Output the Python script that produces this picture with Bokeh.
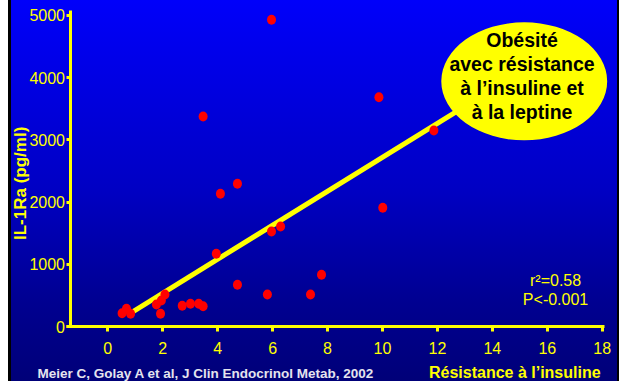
import numpy as np
from bokeh.plotting import figure
from bokeh.models import FixedTicker, Label, Range1d
from bokeh.core.properties import value
from bokeh.embed import file_html
from bokeh.resources import INLINE

# ---- data ----
resistance = [0.52, 0.68, 0.83, 1.77, 1.92, 1.95, 2.08, 2.71, 3.01, 3.31, 3.47, 3.47,
              3.95, 4.10, 4.72, 4.72, 5.81, 5.96, 5.96, 6.29, 7.38, 7.78, 9.87, 10.01, 11.87]
il1ra = [214, 284, 204, 354, 204, 418, 514, 333, 365, 365, 326, 3376,
         1169, 2133, 670, 2294, 514, 1527, 4931, 1608, 514, 831, 3687, 1908, 3151]

fit_x = [0.86, 13.0]
fit_y = [225, 3540]

x_ticks = [0, 2, 4, 6, 8, 10, 12, 14, 16, 18]
y_ticks = [0, 1000, 2000, 3000, 4000, 5000]

bubble_lines = ["Obésité", "avec résistance", "à l\u2019insuline et", "à la leptine"]
stats_lines = ["r\u00b2=0.58", "P<-0.001"]
x_title = "Résistance à l\u2019insuline"
y_title = "IL-1Ra (pg/ml)"
citation = "Meier C, Golay A et al, J Clin Endocrinol Metab, 2002"

FONT = "Liberation Sans"
YELLOW = "#ffff00"

bg = ("linear-gradient(to right, #ffffff 0px, #ffffff 8px, #000000 8px, #000000 11px, "
      "rgba(0,0,0,0) 11px, rgba(0,0,0,0) 617px, #000000 617px, #000000 619px), "
      "linear-gradient(to bottom, #0000fa 0%, #0000c3 50%, #000091 79%, #000078 100%)")

p = figure(width=619, height=381, title=None,
           x_range=Range1d(-3.906, 18.628), y_range=Range1d(-884, 5241),
           output_backend="svg", toolbar_location=None,
           min_border_left=0, min_border_right=0, min_border_top=0, min_border_bottom=0,
           background_fill_color=None, border_fill_color=None, outline_line_color=None,
           styles={"background": bg})

p.grid.visible = False

for ax in (p.xaxis, p.yaxis):
    ax.axis_line_color = YELLOW
    ax.axis_line_width = 3
    ax.major_tick_line_color = YELLOW
    ax.major_tick_line_width = 3
    ax.major_tick_in = 0
    ax.minor_tick_line_color = None
    ax.major_label_text_color = YELLOW
    ax.major_label_text_font = FONT
    ax.major_label_text_font_size = "16px"

p.xaxis.ticker = FixedTicker(ticks=x_ticks, minor_ticks=[])
p.yaxis.ticker = FixedTicker(ticks=y_ticks, minor_ticks=[])
p.xaxis.fixed_location = 0
p.xaxis.bounds = (-1.5, 18.08)
p.xaxis.major_tick_out = 5
p.xaxis.major_label_standoff = 10
p.yaxis.fixed_location = -1.34
p.yaxis.bounds = (0, 5080)
p.yaxis.major_tick_out = 4
p.yaxis.major_label_standoff = 2

# regression line
p.line(fit_x, fit_y, line_color=YELLOW, line_width=5, line_cap="butt")

# data points
p.ellipse(x=resistance, y=il1ra, width=9, height=10, width_units="screen",
          height_units="screen", fill_color="#ff0000", line_color=None)

# speech bubble
p.ellipse(x=[15.16], y=[3942], width=[6.04], height=[1897],
          fill_color=YELLOW, line_color=None)
p.text(x=[15.08] * 4, y=[4609, 4224, 3838, 3445], text=bubble_lines,
       text_font=value(FONT), text_font_style="bold", text_font_size="19.5px",
       text_color="#000000", text_align="center", text_baseline="middle")

# statistics
p.text(x=[16.3, 16.3], y=[740, 434], text=stats_lines,
       text_font=value(FONT), text_font_size="16px",
       text_color=YELLOW, text_align="center", text_baseline="middle")

# axis titles and citation
p.add_layout(Label(x=-3.16, y=2302, text=y_title, angle=np.pi / 2,
                   text_align="center", text_baseline="middle",
                   text_color=YELLOW, text_font=FONT, text_font_style="bold",
                   text_font_size="17px"))
p.add_layout(Label(x=17.94, y=-746, text=x_title, text_align="right",
                   text_baseline="middle", text_color=YELLOW, text_font=FONT,
                   text_font_style="bold", text_font_size="16px"))
p.add_layout(Label(x=-2.56, y=-761, text=citation, text_align="left",
                   text_baseline="middle", text_color="#e4e4ee", text_font=FONT,
                   text_font_style="bold", text_font_size="13.5px"))

open("out.html", "w").write(file_html(p, INLINE))
